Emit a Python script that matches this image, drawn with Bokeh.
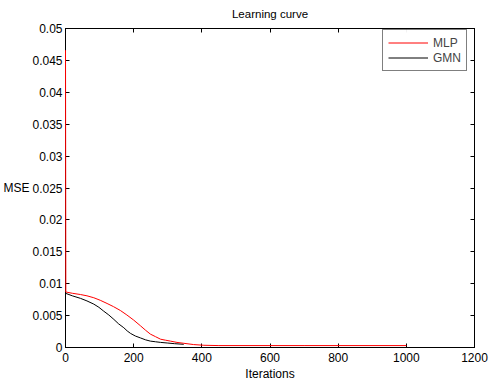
from bokeh.plotting import figure
from bokeh.models import Range1d, LinearAxis, FixedTicker, Legend, LegendItem
from bokeh.embed import file_html
from bokeh.resources import INLINE

# data
mlp_iter = [0, 1, 20, 44, 63, 83, 102, 122, 141, 161, 180, 200, 220, 235, 249, 264,
            279, 293, 308, 327, 347, 376, 406, 450, 700, 1000]
mlp_mse = [0.0466, 0.0087, 0.0085, 0.0083, 0.0081, 0.0078, 0.0074, 0.0069, 0.0064,
           0.0058, 0.0051, 0.0043, 0.0034, 0.0027, 0.0021, 0.0017, 0.0013, 0.00115,
           0.0010, 0.0008, 0.00066, 0.00046, 0.00035, 0.0003, 0.0003, 0.0003]
gmn_iter = [0, 20, 44, 63, 83, 98, 112, 127, 142, 156, 171, 181, 191, 205, 220, 235,
            249, 264, 279, 300, 320, 347]
gmn_mse = [0.0085, 0.0081, 0.0077, 0.0073, 0.0068, 0.0063, 0.0057, 0.0051, 0.0044,
           0.0037, 0.0031, 0.0026, 0.0022, 0.0018, 0.0015, 0.0012, 0.0010, 0.0009,
           0.0008, 0.0007, 0.0006, 0.0005]

x_ticks = [0, 200, 400, 600, 800, 1000, 1200]
y_ticks = [0, 0.005, 0.01, 0.015, 0.02, 0.025, 0.03, 0.035, 0.04, 0.045, 0.05]
y_tick_labels = ["0", "0.005", "0.01", "0.015", "0.02", "0.025", "0.03", "0.035", "0.04", "0.045", "0.05"]

FONT = "Liberation Sans"

p = figure(width=490, height=383, output_backend="svg", toolbar_location=None,
           x_range=Range1d(0, 1200), y_range=Range1d(0, 0.05),
           min_border_left=65, min_border_right=16, min_border_top=27, min_border_bottom=35,
           x_axis_label="Iterations", y_axis_label="MSE")
p.title.text = "Learning curve"
p.title.align = "center"
p.title.vertical_align = "top"
p.title.text_font = FONT
p.title.text_font_size = "11.5px"
p.title.text_font_style = "normal"
p.title.text_color = "black"
p.title.standoff = 14
p.xgrid.visible = False
p.ygrid.visible = False
p.outline_line_color = "black"
p.outline_line_width = 1
p.background_fill_color = "white"
p.border_fill_color = "white"

def style(ax, ticks, labels=True):
    ax.ticker = FixedTicker(ticks=ticks)
    ax.major_tick_in = 4
    ax.major_tick_out = 0
    ax.minor_tick_line_color = None
    ax.axis_line_color = "black"
    ax.major_tick_line_color = "black"
    ax.major_label_text_font = FONT
    ax.major_label_text_font_size = "12px"
    ax.major_label_text_color = "black"
    ax.axis_label_text_font = FONT
    ax.axis_label_text_font_size = "12px"
    ax.axis_label_text_font_style = "normal"
    ax.axis_label_text_color = "black"
    ax.major_label_standoff = 3
    ax.axis_label_standoff = 0
    if not labels:
        ax.major_label_text_color = None
        ax.major_label_text_font_size = "1px"
        ax.major_label_standoff = 0

style(p.xaxis[0], x_ticks)
p.xaxis[0].major_label_standoff = 5
p.xaxis[0].axis_label_standoff = 2
style(p.yaxis[0], y_ticks)
p.yaxis[0].major_label_overrides = {t: l for t, l in zip(y_ticks, y_tick_labels)}
p.yaxis[0].axis_label_orientation = "horizontal"

top = LinearAxis()
style(top, x_ticks, labels=False)
p.add_layout(top, "above")
right = LinearAxis()
style(right, y_ticks, labels=False)
p.add_layout(right, "right")

r2 = p.line(gmn_iter, gmn_mse, line_color="black", line_width=1)
r1 = p.line(mlp_iter, mlp_mse, line_color="#ff0000", line_width=1)
r1.level = "overlay"

legend = Legend(items=[LegendItem(label="MLP", renderers=[r1]),
                       LegendItem(label="GMN", renderers=[r2])],
                location=(317, 276), margin=0, padding=5, spacing=0,
                glyph_width=40, glyph_height=15, label_height=15, label_standoff=5,
                label_text_font=FONT, label_text_font_size="12px",
                border_line_color="black", border_line_width=1,
                background_fill_color="white")
p.add_layout(legend, "center")

open("out.html", "w").write(file_html(p, INLINE))
